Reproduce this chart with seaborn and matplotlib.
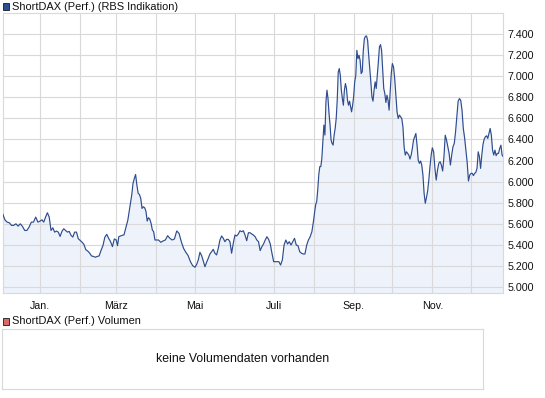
import numpy as np
import pandas as pd
import matplotlib
matplotlib.use('Agg')
import matplotlib.pyplot as plt
import matplotlib.patches as mpatches
import seaborn as sns

# month segments (start of each segment) and the values read inside each one
segment_starts = ['2010-12-03', '2011-01-01', '2011-02-01', '2011-03-01', '2011-04-01',
                  '2011-05-01', '2011-06-01', '2011-07-01', '2011-08-01', '2011-09-01',
                  '2011-10-01', '2011-11-01', '2011-12-01']
end_date = '2011-12-26'

dec10 = [5693, 5636, 5614, 5608, 5583, 5583, 5598, 5576, 5598, 5573, 5535, 5535,
         5567, 5614, 5614, 5662, 5614]
jan = [5624, 5636, 5614, 5662, 5703, 5662, 5535, 5560, 5519, 5529, 5519, 5478,
       5526, 5551, 5535, 5519, 5526, 5488, 5472, 5519, 5519, 5456]
feb = [5440, 5424, 5402, 5352, 5339, 5320, 5292, 5288, 5280, 5288, 5292, 5345,
       5390, 5470, 5498, 5460, 5429, 5381, 5454]
mar = [5444, 5390, 5476, 5480, 5485, 5490, 5492, 5539, 5587, 5634, 5713, 5792,
       5871, 5982, 6029, 6067, 5966, 5887, 5877, 5839, 5744, 5760, 5751, 5719,
       5624, 5656, 5643, 5602, 5539, 5523, 5444]
apr = [5444, 5444, 5422, 5435, 5444, 5485, 5460, 5444, 5454, 5530, 5508, 5429,
       5365, 5327, 5296, 5239, 5200]
may = [5185, 5210, 5254, 5327, 5296, 5245, 5190, 5232, 5270, 5311, 5333, 5355,
       5318, 5302, 5365, 5444, 5482, 5460, 5428, 5450, 5450, 5428, 5318, 5412]
jun = [5491, 5482, 5501, 5532, 5523, 5532, 5491, 5437, 5513, 5513, 5501, 5491,
       5475, 5444, 5428, 5343, 5380, 5406, 5444, 5475, 5450, 5406, 5318]
jul = [5238, 5238, 5238, 5238, 5206, 5254, 5396, 5444, 5406, 5428, 5396, 5428,
       5460, 5396, 5390, 5333, 5318, 5311, 5311, 5396, 5444, 5475, 5523]
aug = [5633, 5712, 5780, 5810, 5920, 6062, 6142, 6142, 6221, 6379, 6537, 6442,
       6758, 6869, 6790, 6647, 6537, 6394, 6363, 6347, 6442, 6505, 6600, 6774,
       7043, 7074, 7011, 6869, 6790, 6726, 6869, 6932, 6885, 6774, 6726, 6764,
       6711, 6663, 6726]
sep = [6806, 6948, 7011, 7248, 7169, 7201, 7153, 7027, 7043, 7248, 7359, 7381,
       7384, 7343, 7201, 7074, 6948, 6806, 6764, 6869, 6948, 6885, 7011, 7138,
       7280, 7302, 7248, 7074, 6885, 6837, 6752, 6821, 6774, 6679, 6853, 7027]
oct_ = [7122, 7090, 6979, 6821, 6663, 6600, 6632, 6616, 6600, 6520, 6331, 6252,
        6283, 6268, 6252, 6214, 6252, 6315, 6394, 6426, 6457, 6346, 6204, 6173,
        6195, 6157, 6062, 5888, 5793, 5847, 5910, 6014, 6141, 6252]
nov = [6321, 6283, 6125, 6014, 6109, 6173, 6189, 6157, 6100, 6236, 6441, 6394,
       6331, 6268, 6157, 6252, 6331, 6362, 6473, 6615, 6764, 6789, 6773, 6679,
       6505, 6416, 6299, 6182, 6005, 6062]
dec11 = [6078, 6078, 6056, 6078, 6087, 6125, 6283, 6236, 6125, 6252, 6353, 6403,
         6426, 6435, 6410, 6457, 6505, 6441, 6299, 6252, 6299, 6246, 6268, 6268,
         6315, 6346, 6252, 6236]

segments = [dec10, jan, feb, mar, apr, may, jun, jul, aug, sep, oct_, nov, dec11]

month_ticks = ['2011-01-01', '2011-02-01', '2011-03-01', '2011-04-01', '2011-05-01',
               '2011-06-01', '2011-07-01', '2011-08-01', '2011-09-01', '2011-10-01',
               '2011-11-01', '2011-12-01']
month_labels = ['Jan.', '', 'März', '', 'Mai', '', 'Juli', '', 'Sep.', '', 'Nov.', '']
y_ticks = [5000, 5200, 5400, 5600, 5800, 6000, 6200, 6400, 6600, 6800, 7000, 7200, 7400]

# spread the readings of each month over that month
bounds = [pd.Timestamp(s) for s in segment_starts] + [pd.Timestamp(end_date)]
dates = []
for i, vals in enumerate(segments):
    s, e = bounds[i], bounds[i + 1]
    n = len(vals)
    if i == len(segments) - 1:
        frac = np.linspace(0, 1, n)
    else:
        frac = np.arange(n) / n
    dates += [s + (e - s) * f for f in frac]

df = pd.DataFrame({'date': dates, 'value': np.concatenate(segments)})

sns.set_style('white')
plt.rcParams['font.family'] = ['Liberation Sans', 'DejaVu Sans']

grid_col = '#d9d9d9'
line_col = '#2e4c8e'
fill_col = '#eef2fa'
ymin, ymax = 4940, 7600

fig = plt.figure(figsize=(5.45, 3.98), dpi=100)
ax = fig.add_axes([2.7 / 545, 1 - 293 / 398, 500.6 / 545, 279.7 / 398])

ax.fill_between(df['date'], df['value'], ymin, color=fill_col, lw=0, zorder=0.5)
sns.lineplot(data=df, x='date', y='value', ax=ax, color=line_col, lw=0.85,
             estimator=None, sort=False, zorder=3)

ax.set_xlim(bounds[0], bounds[-1])
ax.set_ylim(ymin, ymax)
ax.set_xticks(pd.to_datetime(month_ticks))
ax.set_xticklabels(month_labels)
ax.set_yticks(y_ticks)
ax.set_yticklabels([f'{v:,}'.replace(',', '.') for v in y_ticks])
ax.yaxis.tick_right()
ax.tick_params(axis='both', length=0, labelsize=7.7, colors='#111111')
ax.tick_params(axis='y', pad=3)
ax.tick_params(axis='x', pad=5.5)
ax.set_xlabel('')
ax.set_ylabel('')
ax.set_axisbelow('line')
ax.grid(True, color=grid_col, lw=0.8)
for sp in ax.spines.values():
    sp.set_color(grid_col)
    sp.set_linewidth(0.8)

# header legends
fig.add_artist(mpatches.Rectangle((3 / 545, 1 - 10 / 398), 6 / 545, 7 / 398,
                                  transform=fig.transFigure, facecolor='#2d4f8f',
                                  edgecolor='#1a1a1a', lw=0.6))
fig.text(12 / 545, 1 - 6.5 / 398, 'ShortDAX (Perf.) (RBS Indikation)', fontsize=7.9,
         va='center', ha='left', color='#111111')
fig.add_artist(mpatches.Rectangle((3 / 545, 1 - 325 / 398), 6 / 545, 7 / 398,
                                  transform=fig.transFigure, facecolor='#d96a6a',
                                  edgecolor='#1a1a1a', lw=0.6))
fig.text(12 / 545, 1 - 321.5 / 398, 'ShortDAX (Perf.) Volumen', fontsize=7.9,
         va='center', ha='left', color='#111111')

# empty volume panel
ax2 = fig.add_axes([2.3 / 545, 1 - 389.3 / 398, 480.7 / 545, 60 / 398])
ax2.set_xticks([])
ax2.set_yticks([])
for sp in ax2.spines.values():
    sp.set_color(grid_col)
    sp.set_linewidth(0.8)
ax2.text(0.5, 0.5, 'keine Volumendaten vorhanden', ha='center', va='center',
         fontsize=8.8, color='#111111', transform=ax2.transAxes)

fig.savefig('out.png', dpi=100)
